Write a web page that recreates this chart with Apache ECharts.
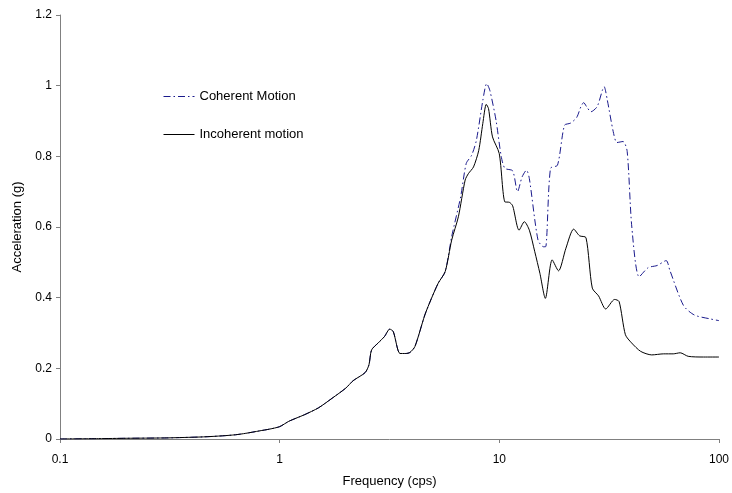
<!DOCTYPE html>
<html>
<head>
<meta charset="utf-8">
<script src="https://cdn.jsdelivr.net/npm/echarts@6/dist/echarts.min.js"></script>
<style>html,body{margin:0;padding:0;background:#fff}#c{width:732px;height:493px}</style>
</head>
<body>
<div id="c"></div>
<script>
const xTicks = [0.1, 1, 10, 100];
const yTicks = [0, 0.2, 0.4, 0.6, 0.8, 1, 1.2];

const lowFreq = [0.1,0.15,0.2,0.3,0.35,0.45,0.55,0.63,0.7,0.81,0.9,1.0,1.1,1.2,1.3,1.5,1.73,2.0,2.16,2.45,2.55,2.62,2.81,3.0,3.17,3.29,3.53,3.75,3.92,4.13,4.58,4.91,5.27,5.67];
const lowAcc  = [0,0.001,0.002,0.003,0.004,0.006,0.009,0.012,0.016,0.023,0.028,0.035,0.05,0.06,0.069,0.088,0.115,0.144,0.165,0.188,0.21,0.252,0.272,0.29,0.311,0.304,0.242,0.242,0.245,0.262,0.351,0.398,0.441,0.474];

const incoherentFreq = [6.07,6.51,6.99,7.23,7.63,8.06,8.41,8.72,8.93,9.31,9.99,10.6,11.1,11.5,12.3,13.0,13.7,14.5,15.3,16.2,17.4,18.6,20.1,21.8,23.2,24.8,26.5,28.3,30.5,33.5,35.1,37.5,40,44,49.4,56,61.9,66.6,72.4,85,100];
const incoherentAcc  = [0.563,0.629,0.733,0.751,0.770,0.817,0.893,0.947,0.935,0.855,0.808,0.671,0.670,0.66,0.591,0.615,0.591,0.53,0.469,0.398,0.507,0.476,0.540,0.594,0.575,0.570,0.427,0.405,0.368,0.395,0.389,0.295,0.272,0.248,0.238,0.241,0.241,0.244,0.234,0.232,0.232];

const coherentFreq = [6.07,6.67,7.07,7.48,7.86,8.41,8.76,9.05,9.66,10.2,10.6,11.5,12.1,12.7,13.3,13.7,15.0,15.9,16.3,17.1,18.4,19.8,21.1,22.5,23.5,24.2,25.0,26.1,27.9,30.0,31.0,33.0,34.3,36.6,38.2,40.1,43.3,47.6,52.3,57.5,59.7,68.9,77.2,91,100];
const coherentAcc  = [0.573,0.686,0.780,0.803,0.845,0.958,1.006,0.987,0.902,0.80,0.766,0.759,0.700,0.742,0.761,0.737,0.563,0.544,0.545,0.766,0.775,0.888,0.894,0.91,0.94,0.952,0.94,0.926,0.941,0.997,0.96,0.87,0.839,0.842,0.814,0.60,0.459,0.485,0.491,0.505,0.478,0.378,0.351,0.340,0.335];

function zip(f, a) { return f.map((v, i) => [v, a[i]]); }
const lowPts = zip(lowFreq, lowAcc);
const incoherentData = lowPts.concat(zip(incoherentFreq, incoherentAcc));
const coherentData = lowPts.concat(zip(coherentFreq, coherentAcc));

const font = 'Liberation Sans, Arial, sans-serif';
const chart = echarts.init(document.getElementById('c'), null, {renderer: 'canvas'});
chart.setOption({
  animation: false,
  backgroundColor: '#fff',
  textStyle: {fontFamily: font},
  grid: {left: 60, right: 10, top: 15, bottom: 52, containLabel: false},
  legend: {
    orient: 'vertical', left: 158, top: 85, itemGap: 25, itemWidth: 31, itemHeight: 14,
    itemStyle: {opacity: 0},
    lineStyle: {width: 1},
    textStyle: {fontFamily: font, fontSize: 13, color: '#000', padding: [0,0,0,0]},
    data: [{name: 'Coherent Motion'}, {name: 'Incoherent motion'}]
  },
  xAxis: {
    type: 'log', logBase: 10, min: 0.1, max: 100,
    name: 'Frequency (cps)', nameLocation: 'middle', nameGap: 36,
    nameTextStyle: {fontFamily: font, fontSize: 13, color: '#000'},
    axisLine: {lineStyle: {color: '#808080', width: 1}},
    axisTick: {show: true, inside: false, length: 4, lineStyle: {color: '#808080'}},
    minorTick: {show: false},
    splitLine: {show: false},
    axisLabel: {fontFamily: font, fontSize: 12, color: '#000', margin: 15,
      formatter: v => { const t = xTicks.find(x => Math.abs(x - v) / x < 1e-6); return t === undefined ? '' : String(t); }}
  },
  yAxis: {
    type: 'value', min: 0, max: 1.2, interval: 0.2,
    name: 'Acceleration (g)', nameLocation: 'middle', nameGap: 33,
    nameTextStyle: {fontFamily: font, fontSize: 13, color: '#000'},
    axisLine: {show: true, lineStyle: {color: '#808080', width: 1}},
    axisTick: {show: true, inside: false, length: 4, lineStyle: {color: '#808080'}},
    splitLine: {show: false},
    axisLabel: {fontFamily: font, fontSize: 12, color: '#000', margin: 8,
      formatter: v => { const t = yTicks.find(y => Math.abs(y - v) < 1e-6); return t === undefined ? '' : String(t); }}
  },
  series: [
    {name: 'Coherent Motion', type: 'line', data: coherentData, symbol: 'none', smooth: 0.25, z: 2,
      itemStyle: {color: '#1a1a8c'},
      lineStyle: {color: '#1a1a8c', width: 1, type: [7, 3, 1.5, 3]}},
    {name: 'Incoherent motion', type: 'line', data: incoherentData, symbol: 'none', smooth: 0.25, z: 3,
      itemStyle: {color: '#000'},
      lineStyle: {color: '#000', width: 1, type: 'solid'}}
  ]
});
</script>
</body>
</html>
